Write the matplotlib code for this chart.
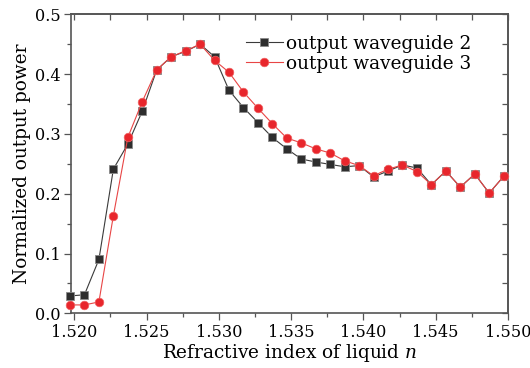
import numpy as np
import matplotlib
matplotlib.use("Agg")
import matplotlib.pyplot as plt
from matplotlib.ticker import MultipleLocator

plt.rcParams['font.family'] = ['DejaVu Serif']
plt.rcParams['mathtext.fontset'] = 'dejavuserif'

n_values = [1.5197, 1.5207, 1.5217, 1.5227, 1.5237, 1.5247, 1.5257, 1.5267, 1.5277, 1.5287,
            1.5297, 1.5307, 1.5317, 1.5327, 1.5337, 1.5347, 1.5357, 1.5367, 1.5377, 1.5387,
            1.5397, 1.5407, 1.5417, 1.5427, 1.5437, 1.5447, 1.5457, 1.5467, 1.5477, 1.5487,
            1.5497]
wg2 = [0.029, 0.031, 0.090, 0.241, 0.283, 0.338, 0.407, 0.429, 0.438, 0.450,
       0.429, 0.373, 0.344, 0.319, 0.294, 0.275, 0.258, 0.253, 0.249, 0.245,
       0.247, 0.228, 0.238, 0.248, 0.243, 0.215, 0.238, 0.211, 0.233, 0.201,
       0.229]
wg3 = [0.014, 0.014, 0.019, 0.163, 0.294, 0.354, 0.407, 0.429, 0.439, 0.450,
       0.423, 0.403, 0.370, 0.343, 0.317, 0.293, 0.285, 0.275, 0.268, 0.255,
       0.247, 0.230, 0.241, 0.248, 0.237, 0.215, 0.238, 0.211, 0.233, 0.201,
       0.229]
labels = ["output waveguide 2", "output waveguide 3"]

fig = plt.figure(figsize=(5.30, 3.68), dpi=100)
ax = fig.add_axes([71/530, 1-313.3/368, (508-71)/530, (313.3-14.3)/368])

ax.plot(n_values, wg2, color='#3a3a3a', lw=0.8, marker='s', ms=5.5,
        mfc='#2e2e2e', mec='#8a8a8a', mew=0.6, label=labels[0], clip_on=False, zorder=3)
ax.plot(n_values, wg3, color='#e84545', lw=0.8, marker='o', ms=6.2,
        mfc='#e8262c', mec='#f06060', mew=0.5, label=labels[1], clip_on=False, zorder=4)

ax.set_xlim(1.51977, 1.550)
ax.set_ylim(0.0, 0.5)
ax.xaxis.set_major_locator(MultipleLocator(0.005))
ax.xaxis.set_minor_locator(MultipleLocator(0.0025))
ax.yaxis.set_major_locator(MultipleLocator(0.1))
ax.yaxis.set_minor_locator(MultipleLocator(0.05))
ax.xaxis.set_major_formatter(matplotlib.ticker.FormatStrFormatter('%.3f'))
ax.yaxis.set_major_formatter(matplotlib.ticker.FormatStrFormatter('%.1f'))

ax.tick_params(which='both', direction='out', top=False, right=False, labelsize=11.6,
               color='#555555', width=0.9, pad=2.5)
ax.tick_params(which='major', length=5)
ax.tick_params(which='minor', length=3)
axt = ax.secondary_xaxis('top')
axt.xaxis.set_major_locator(MultipleLocator(0.005))
axt.xaxis.set_minor_locator(MultipleLocator(0.0025))
axt.tick_params(which='both', direction='in', labeltop=False, color='#555555', width=0.9)
axt.tick_params(which='major', length=4)
axt.tick_params(which='minor', length=4)
axr = ax.secondary_yaxis('right')
axr.yaxis.set_major_locator(MultipleLocator(0.1))
axr.yaxis.set_minor_locator(MultipleLocator(0.05))
axr.tick_params(which='both', direction='in', labelright=False, color='#555555', width=0.9)
axr.tick_params(which='major', length=4)
axr.tick_params(which='minor', length=4)
for s in list(ax.spines.values()) + [axt.spines['top'], axr.spines['right']]:
    s.set_color('#555555')
    s.set_linewidth(1.2)

ax.set_xlabel('Refractive index of liquid $n$', fontsize=13.3, labelpad=1)
ax.set_ylabel('Normalized output power', fontsize=13.3, labelpad=3)

leg = ax.legend(loc='upper right', bbox_to_anchor=(0.945, 0.975), frameon=False,
                fontsize=13.3, handlelength=2.0, handletextpad=0.15,
                labelspacing=0.1, borderpad=0.2)

fig.savefig('out.png', dpi=100)
